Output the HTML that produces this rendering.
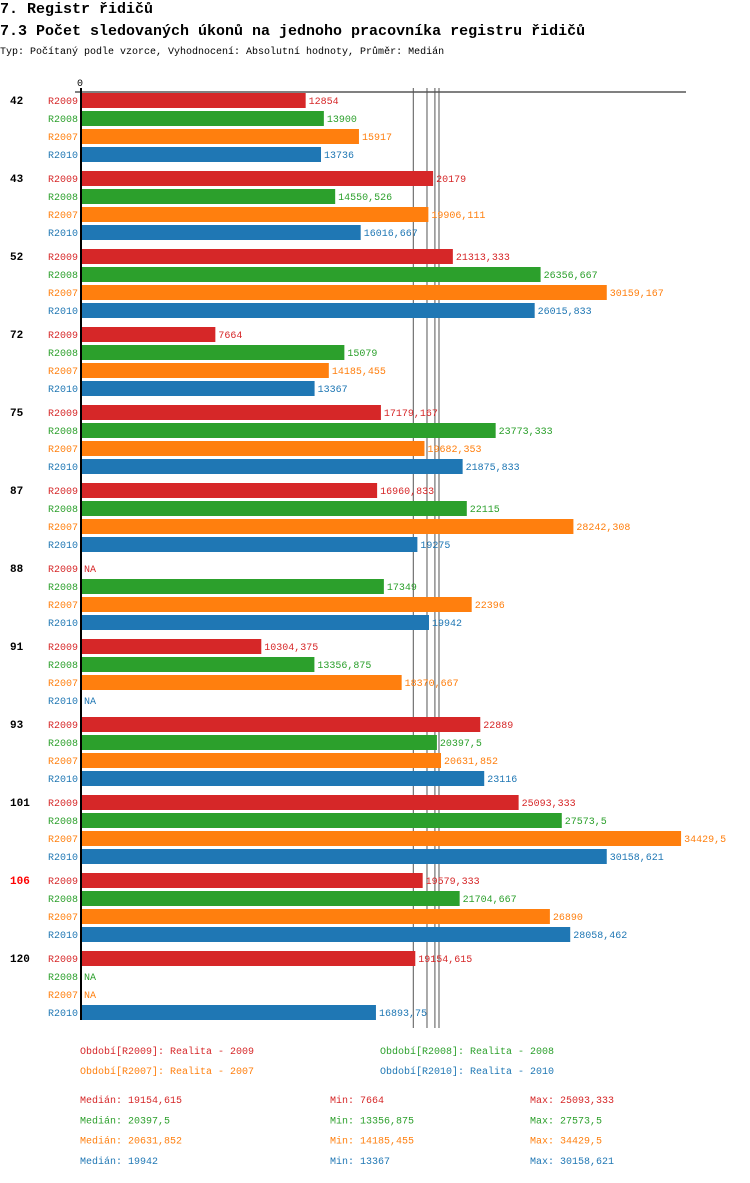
<!DOCTYPE html>
<html><head><meta charset="utf-8">
<style>
body{margin:0;background:#fff;width:750px;height:1178px;overflow:hidden;font-family:"Liberation Mono","DejaVu Sans Mono",monospace;}
svg text{font-family:"Liberation Mono","DejaVu Sans Mono",monospace;}
</style></head>
<body>
<svg id="c" width="750" height="1178" xmlns="http://www.w3.org/2000/svg">
<text x="0" y="13" font-size="15" font-weight="bold" fill="#000">7. Registr řidičů</text>
<text x="0" y="35" font-size="15" font-weight="bold" fill="#000">7.3 Počet sledovaných úkonů na jednoho pracovníka registru řidičů</text>
<text x="0" y="54" font-size="10" fill="#000">Typ: Počítaný podle vzorce, Vyhodnocení: Absolutní hodnoty, Průměr: Medián</text>
<text x="77" y="86" font-size="10" fill="#000">0</text>
<line x1="75" y1="92" x2="686" y2="92" stroke="#000" stroke-width="1"/>
<g id="medlines"></g>
<g id="marks"></g>
<line x1="81" y1="88" x2="81" y2="1020" stroke="#000" stroke-width="2"/>
</svg>
<script>
const categories=["42","43","52","72","75","87","88","91","93","101","106","120"];
const seriesNames=["R2009","R2008","R2007","R2010"];
const r2009=[12854,20179,21313.333,7664,17179.167,16960.833,null,10304.375,22889,25093.333,19579.333,19154.615];
const r2008=[13900,14550.526,26356.667,15079,23773.333,22115,17349,13356.875,20397.5,27573.5,21704.667,null];
const r2007=[15917,19906.111,30159.167,14185.455,19682.353,28242.308,22396,18370.667,20631.852,34429.5,26890,null];
const r2010=[13736,16016.667,26015.833,13367,21875.833,19275,19942,null,23116,30158.621,28058.462,16893.75];
const medians=[19154.615,20397.5,20631.852,19942];
const mins=["7664","13356,875","14185,455","13367"];
const maxs=["25093,333","27573,5","34429,5","30158,621"];
const legendLabels=["Realita - 2009","Realita - 2008","Realita - 2007","Realita - 2010"];
const colors=["#d62728","#2ca02c","#ff7f0e","#1f77b4"];
const series=[r2009,r2008,r2007,r2010];
const NS="http://www.w3.org/2000/svg";
const svg=document.getElementById('c'), g=document.getElementById('marks'), ml=document.getElementById('medlines');
const xScale=v=>82+v*0.0174;
const yBar=(gi,si)=>93+gi*78+si*18;
const fmt=v=>String(Math.round(v*1000)/1000).replace('.',',');
function mk(tag,attrs,parent){const e=document.createElementNS(NS,tag);for(const k in attrs)e.setAttribute(k,attrs[k]);(parent||g).appendChild(e);return e;}
medians.forEach((m,si)=>{
  const l=mk('line',{x1:xScale(m)-2,x2:xScale(m)-2,y1:88,y2:1028,stroke:'#555','stroke-width':1},ml);
  
  
});
categories.forEach((cat,gi)=>{
  const t=mk('text',{x:10,y:yBar(gi,0)+11,'font-size':11,'font-weight':'bold',fill:cat==="106"?"#f00":"#000"});
  t.textContent=cat;
  
  
  series.forEach((s,si)=>{
    const y=yBar(gi,si);
    const lab=mk('text',{x:78,y:y+11,'font-size':10,'text-anchor':'end',fill:colors[si]});
    lab.textContent=seriesNames[si];
    
    
    const v=s[gi];
    let endX=84;
    if(v!==null){
      const r=mk('rect',{x:82,y:y,width:xScale(v)-82,height:15,fill:colors[si]});
      
      
      endX=xScale(v)+3;
    }
    const vt=mk('text',{x:endX,y:y+11,'font-size':10,fill:colors[si]});
    vt.textContent=v===null?"NA":fmt(v);
    
    
  });
});
const legPos=[[80,1054],[380,1054],[80,1074],[380,1074]];
seriesNames.forEach((n,si)=>{
  const t=mk('text',{x:legPos[si][0],y:legPos[si][1],'font-size':10,fill:colors[si]},svg);
  t.textContent="Období["+n+"]: "+legendLabels[si];
  
  
  const y=1103+si*20.3;
  const a=mk('text',{x:80,y:y,'font-size':10,fill:colors[si]},svg);
  a.textContent="Medián: "+fmt(medians[si]);
  
  
  const b=mk('text',{x:330,y:y,'font-size':10,fill:colors[si]},svg);
  b.textContent="Min: "+mins[si];
  
  
  const c=mk('text',{x:530,y:y,'font-size':10,fill:colors[si]},svg);
  c.textContent="Max: "+maxs[si];
  
  
});
</script>
</body></html>
